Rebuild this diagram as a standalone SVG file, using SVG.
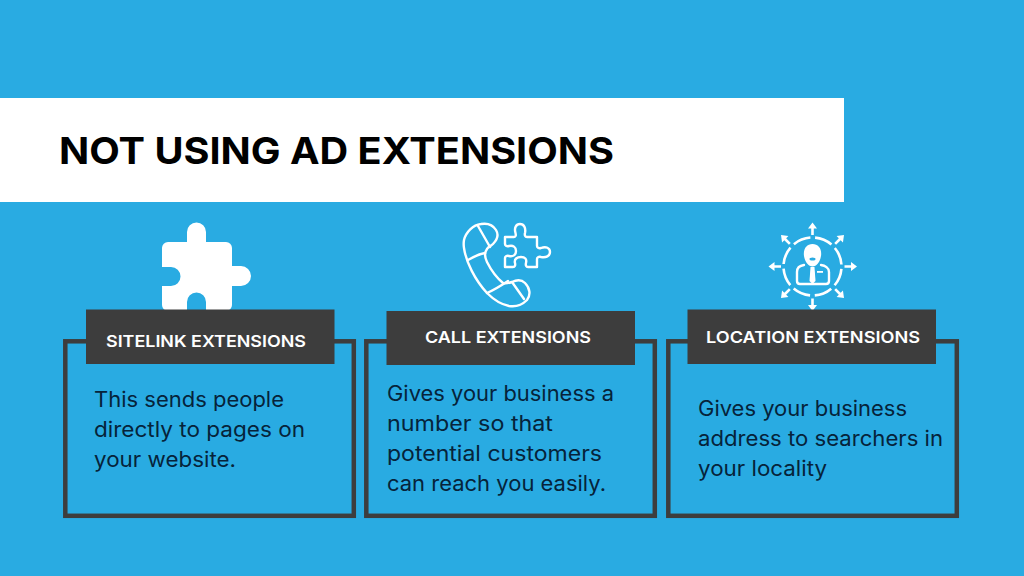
<svg xmlns="http://www.w3.org/2000/svg" width="1024" height="576" viewBox="0 0 1024 576">
<style>
.frame{fill:none;stroke:#3d3d3d;stroke-width:4.5}
.head{fill:#3d3d3d}
.ht{font-family:Inter,"Liberation Sans",sans-serif;font-weight:600;font-size:16.5px;fill:#fff}
.bt{font-family:Inter,"Liberation Sans",sans-serif;font-size:21px;fill:#06233a}
.ln{fill:none;stroke:#fff;stroke-width:2.4;stroke-linecap:round;stroke-linejoin:round}
.w{fill:#fff}
</style>
<defs>
<path id="arrow" d="M0 0L4.500 6H1.300V12.500H-1.300V6H-4.500Z" fill="#fff"/>
</defs>
<rect width="1024" height="576" fill="#29abe2"/>
<g id="title">
<rect x="0" y="98" width="844" height="104" fill="#fff"/>
<text x="59" y="163.500" font-family="Inter,'Liberation Sans',sans-serif" font-weight="700" font-size="37px" fill="#000" textLength="555" lengthAdjust="spacingAndGlyphs">NOT USING AD EXTENSIONS</text>
</g>
<g id="node-sitelink">
<rect class="frame" x="65.300" y="341.300" width="288.500" height="174.500"/>
<path class="w" d="M168 242H187V232A9.500 9.500 0 0 1 206 232V242H226A6 6 0 0 1 232 248V266H241A10 10 0 0 1 241 286H232V305A6 6 0 0 1 226 311H206V302A9.500 9.500 0 0 0 187 302V311H168A6 6 0 0 1 162 305V286H171A9.500 9.500 0 0 0 171 267H162V248A6 6 0 0 1 168 242Z"/>
<rect class="head" x="86" y="309.500" width="248.500" height="54.500"/>
<text class="ht" x="106" y="347" textLength="200" lengthAdjust="spacingAndGlyphs">SITELINK EXTENSIONS</text>
<text class="bt" x="94" y="406.500" textLength="190" lengthAdjust="spacingAndGlyphs">This sends people</text>
<text class="bt" x="94" y="436.500" textLength="211" lengthAdjust="spacingAndGlyphs">directly to pages on</text>
<text class="bt" x="94" y="466.500" textLength="142" lengthAdjust="spacingAndGlyphs">your website.</text>
</g>
<g id="node-call">
<rect class="frame" x="366.300" y="341.300" width="288.500" height="174.500"/>
<path class="ln" d="M464 240C466 232 473 225 481 224C487 223 493 225 496 230C499 235 497 240 493 244C491 246 488 247 487 249C484 253 485 258 487 262C491 270 497 278 503 283C506 284 509 283 512 282C516 280 521 279 525 283C530 288 531 295 527 300C522 305 515 307 509 306C499 304 492 298 487 293C475 280 466 262 464 248C463.500 245 463.500 243 464 240Z"/>
<path class="ln" d="M478 226L490 247M468 260C473 257 480 254 485 253M487 293C494 290 502 285 508 281M512 282L524 299"/>
<path class="ln" d="M505 237H514C516 237 516 235 515.500 233C514 228 516 224 520 224C524 224 526 228 525 233C524.500 235 525 237 527 237H537V246C537 248 539 248.500 541 248C546 246 550 248 550 252C550 256 546 258 541 257C539 256.500 537 257 537 259V267H528C526 267 525.500 265 526 263C527 259 525 257 521 257C517 257 514 259 515 263C515.500 265 515 267 513 267H505V258C505 256 507 255.500 509 256C513 257 516 255 516 251C516 247 513 245 509 246C507 246.500 505 246 505 244Z"/>
<rect class="head" x="386.500" y="311" width="248.500" height="54"/>
<text class="ht" x="425" y="343" textLength="166" lengthAdjust="spacingAndGlyphs">CALL EXTENSIONS</text>
<text class="bt" x="387" y="400.500" textLength="227" lengthAdjust="spacingAndGlyphs">Gives your business a</text>
<text class="bt" x="387" y="430.500" textLength="166" lengthAdjust="spacingAndGlyphs">number so that</text>
<text class="bt" x="387" y="460.500" textLength="215" lengthAdjust="spacingAndGlyphs">potential customers</text>
<text class="bt" x="387" y="490.500" textLength="219" lengthAdjust="spacingAndGlyphs">can reach you easily.</text>
</g>
<g id="node-location">
<rect class="frame" x="668.300" y="341.300" width="288.500" height="174.500"/>
<circle cx="812.500" cy="266.500" r="29" fill="none" stroke="#fff" stroke-width="2.600" stroke-dasharray="18 4.780" stroke-dashoffset="-2.390"/>
<use href="#arrow" transform="translate(812.500 222.500)"/>
<use href="#arrow" transform="translate(812.500 311) rotate(180)"/>
<use href="#arrow" transform="translate(768.500 266.500) rotate(-90)"/>
<use href="#arrow" transform="translate(857 266.500) rotate(90)"/>
<use href="#arrow" transform="translate(781 235) rotate(-45)"/>
<use href="#arrow" transform="translate(844 235) rotate(45)"/>
<use href="#arrow" transform="translate(781 298) rotate(-135)"/>
<use href="#arrow" transform="translate(844 298) rotate(135)"/>
<path class="w" d="M812.500 244C806.500 244 803 249 804 256C805 262 808.500 266.500 812.500 266.500C816.500 266.500 820 262 821 256C822 249 818.500 244 812.500 244Z"/>
<ellipse cx="812.500" cy="259" rx="3" ry="1.500" fill="#29abe2"/>
<path d="M804 265C800 265.500 797 268 797 272V281C797 283 798 284 800 284H826C828 284 829 283 829 281V272C829 268 825 265.500 821 265" fill="none" stroke="#fff" stroke-width="2.400" stroke-linecap="round"/>
<path class="w" d="M810.500 267H814.500L815.500 281L812.500 284L809.500 281Z"/>
<rect x="817" y="271" width="6" height="1.800" class="w"/>
<rect class="head" x="687.500" y="309.500" width="248.500" height="54.500"/>
<text class="ht" x="706" y="343" textLength="214" lengthAdjust="spacingAndGlyphs">LOCATION EXTENSIONS</text>
<text class="bt" x="698" y="415.500" textLength="209" lengthAdjust="spacingAndGlyphs">Gives your business</text>
<text class="bt" x="698" y="445.500" textLength="245" lengthAdjust="spacingAndGlyphs">address to searchers in</text>
<text class="bt" x="698" y="475.500" textLength="129" lengthAdjust="spacingAndGlyphs">your locality</text>
</g>
<g id="connectors"/>
</svg>
